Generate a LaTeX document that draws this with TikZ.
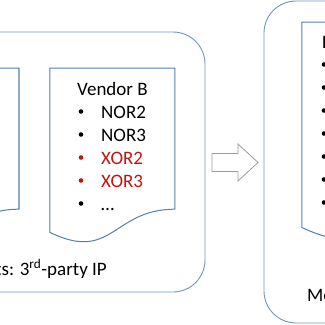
\documentclass[tikz,border=0pt]{standalone}
\usepackage{fontspec}
\setmainfont{Carlito}
\definecolor{BoxBlue}{RGB}{112,150,188}
\definecolor{DocBlue}{RGB}{86,128,172}
\definecolor{ArrowGray}{RGB}{150,158,165}
\definecolor{CellRed}{RGB}{192,20,20}
\usepackage{tikz}
\usetikzlibrary{calc}

\begin{document}
\begin{tikzpicture}[x=1pt, y=-1pt,
    bigbox/.style={draw=BoxBlue, line width=0.9pt, rounded corners=32pt},
    docpage/.style={draw=DocBlue, line width=1pt, fill=white},
    blockarrow/.style={draw=ArrowGray, line width=0.8pt, fill=white},
    lbl/.style={font=\fontsize{19}{23}\selectfont, inner sep=0pt, anchor=base west},
    dot/.style={circle, inner sep=0pt, minimum size=4.6pt}]
      \useasboundingbox (0,0) rectangle (325,325);
      \clip (0,0) rectangle (325,325);

      % two big frames: inputs on the left, result on the right
      \draw[bigbox] (-150,32) rectangle (205,292);
      \draw[bigbox] (264,1) rectangle (520,323);

      % document pages, bottom edge waved
      \draw[docpage] (-106,68) -- (19,68) -- (19,209.2)
            .. controls (-43.5,209.2) and (-43.5,262.8) .. (-106,232.4) -- cycle;
      \draw[docpage] (50,68) -- (175,68) -- (175,209.2)
            .. controls (112.5,209.2) and (112.5,262.8) .. (50,232.4) -- cycle;
      \draw[docpage] (302,22) -- (462,22) -- (462,198.4)
            .. controls (382,198.4) and (382,265.5) .. (302,227.5) -- cycle;

      % Vendor B cell list
      \node[lbl] (vb) at (77,95) {Vendor B};
      \foreach \cell/\y/\col in {NOR2/118/black, NOR3/141/black,
            XOR2/164/CellRed, XOR3/187/CellRed, \dots/210/black} {
        \node[dot, fill=\col] (vb-dot-\y) at (81,\y-6.5) {};
        \node[lbl, text=\col] (vb-cell-\y) at (101,\y) {\cell};
      }

      % merged list, cut by the frame edge
      \node[lbl] (ml) at (322,48) {Library};
      \foreach \cell/\y in {NAND2/71, NAND3/94, NOR2/117, NOR3/140,
            XOR2/163, XOR3/186, \dots/209} {
        \node[dot, fill=black] (ml-dot-\y) at (324,\y-6.5) {};
        \node[lbl] (ml-cell-\y) at (344,\y) {\cell};
      }

      % captions
      \node[lbl, anchor=base east] (incap) at (107,275)
            {Inputs: 3\textsuperscript{rd}-party IP};
      \node[lbl] (outcap) at (307,301) {Merged library};

      % block arrow between the frames
      \draw[blockarrow] (212,153.5) -- (238,153.5) -- (238,144) -- (258,162.5)
            -- (238,181) -- (238,171.5) -- (212,171.5) -- cycle;
\end{tikzpicture}
\end{document}
